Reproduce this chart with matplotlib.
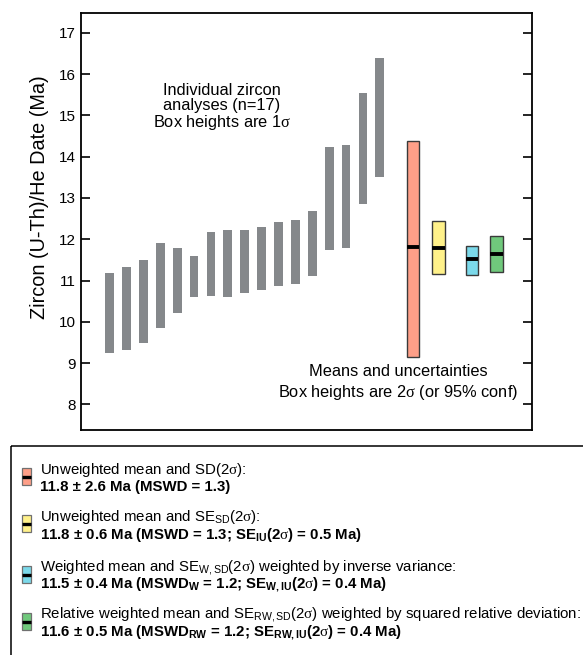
import matplotlib as mpl
mpl.use('Agg')
import matplotlib.pyplot as plt
from matplotlib.patches import Rectangle

plt.rcParams['font.family'] = ['Liberation Sans', 'DejaVu Sans']
plt.rcParams['mathtext.fontset'] = 'custom'
plt.rcParams['mathtext.rm'] = 'Liberation Sans'
plt.rcParams['mathtext.it'] = 'Liberation Serif'
plt.rcParams['mathtext.bf'] = 'Liberation Sans:bold'

# individual zircon analyses: 1 sigma range (low, high) in Ma
grain_lo = [9.25, 9.32, 9.49, 9.86, 10.22, 10.61, 10.63, 10.61, 10.70,
            10.77, 10.87, 10.91, 11.11, 11.74, 11.79, 12.86, 13.51]
grain_hi = [11.19, 11.33, 11.50, 11.91, 11.80, 11.59, 12.18, 12.23, 12.23,
            12.29, 12.42, 12.46, 12.69, 14.23, 14.28, 15.54, 16.39]

# means and 2 sigma uncertainty boxes
mean_x = [18.96, 20.47, 22.45, 23.91]
mean_val = [11.81, 11.80, 11.51, 11.65]
mean_lo = [9.15, 11.15, 11.14, 11.20]
mean_hi = [14.39, 12.43, 11.83, 12.07]
mean_colors = ['#fe9f88', '#fff18a', '#7bd9ea', '#70c97c']

yticks = [8, 9, 10, 11, 12, 13, 14, 15, 16, 17]

legend_head = [
    r'Unweighted mean and SD(2$\sigma$):',
    r'Unweighted mean and SE$_{\mathrm{SD}}$(2$\sigma$):',
    r'Weighted mean and SE$_{\mathrm{W,SD}}$(2$\sigma$) weighted by inverse variance:',
    r'Relative weighted mean and SE$_{\mathrm{RW,SD}}$(2$\sigma$) weighted by squared relative deviation:',
]
legend_body = [
    r'11.8 ± 2.6 Ma (MSWD = 1.3)',
    r'11.8 ± 0.6 Ma (MSWD = 1.3; SE$_{\mathbf{IU}}$(2$\sigma$) = 0.5 Ma)',
    r'11.5 ± 0.4 Ma (MSWD$_{\mathbf{W}}$ = 1.2; SE$_{\mathbf{W,IU}}$(2$\sigma$) = 0.4 Ma)',
    r'11.6 ± 0.5 Ma (MSWD$_{\mathbf{RW}}$ = 1.2; SE$_{\mathbf{RW,IU}}$(2$\sigma$) = 0.4 Ma)',
]

W, H = 583, 655
fig = plt.figure(figsize=(W / 100, H / 100), dpi=100)
ax = fig.add_axes([81 / W, 1 - 430 / H, (531.7 - 81) / W, (430 - 13) / H])

xs = list(range(1, len(grain_lo) + 1))
ax.bar(xs, [h - l for l, h in zip(grain_lo, grain_hi)], bottom=grain_lo,
       width=0.52, color='#85888b', linewidth=0)
ax.bar(mean_x, [h - l for l, h in zip(mean_lo, mean_hi)], bottom=mean_lo,
       width=0.73, color=mean_colors, edgecolor='#3a3a3a', linewidth=1.0)
ax.hlines(mean_val, [x - 0.365 for x in mean_x], [x + 0.365 for x in mean_x],
          colors='black', linewidth=2.8)

ax.set_xlim(-0.70, 26.0)
ax.set_ylim(7.38, 17.48)
ax.set_yticks(yticks)
ax.set_xticks([])
ax.tick_params(axis='y', direction='in', length=6.5, width=1.2,
               labelsize=11, right=True, pad=3.5)
for sp in ax.spines.values():
    sp.set_linewidth(1.3)

ax.text(7.65, 15.18, 'Individual zircon\nanalyses (n=17)\n'
        + r'Box heights are 1$\sigma$',
        ha='center', va='center', fontsize=11.8, linespacing=1.0)
ax.text(18.08, 8.51, 'Means and uncertainties\n'
        + r'Box heights are 2$\sigma$ (or 95% conf)',
        ha='center', va='center', fontsize=11.8, linespacing=1.3)

# legend panel and y label drawn in pixel coordinates
lg = fig.add_axes([0, 0, 1, 1], zorder=-1)
lg.set_xlim(0, W)
lg.set_ylim(H, 0)
lg.axis('off')
lg.text(39.5, 197.5, 'Zircon (U-Th)/He Date (Ma)', rotation=90,
        ha='center', va='center', fontsize=14.3)
lg.add_patch(Rectangle((11, 445.5), 600, 260, fill=False,
                       edgecolor='black', linewidth=1.1, clip_on=False))

head_y = [470, 517, 568, 615]
for i in range(4):
    yc = head_y[i] + 6.5
    lg.add_patch(Rectangle((22, yc - 8.75), 8.5, 17.5, facecolor=mean_colors[i],
                           edgecolor='#707070', linewidth=0.9))
    lg.hlines(yc, 22, 30.5, colors='black', linewidth=2.4)
    lg.text(40, head_y[i], legend_head[i], ha='left', va='center', fontsize=10.8)
    lg.text(40, head_y[i] + 17.5, legend_body[i], ha='left', va='center',
            fontsize=10.8, fontweight='bold')

fig.savefig('out.png', dpi=100)
